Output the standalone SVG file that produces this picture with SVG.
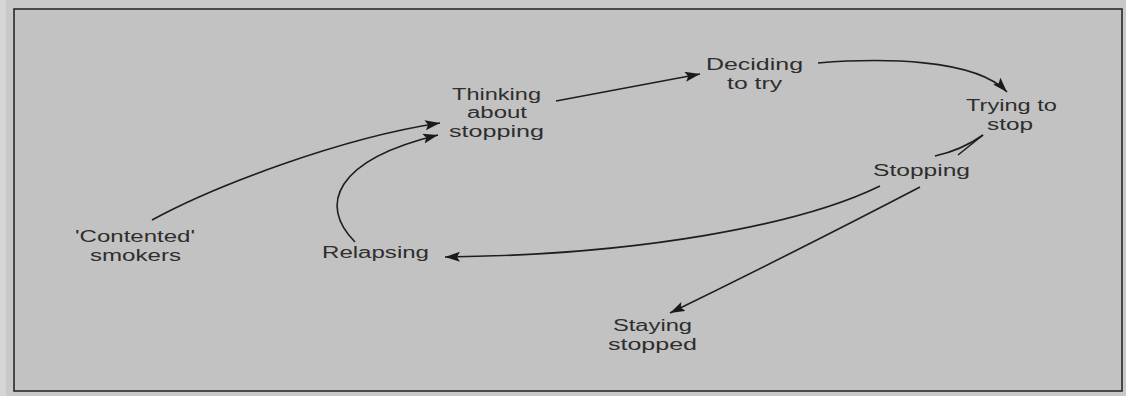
<svg xmlns="http://www.w3.org/2000/svg" width="1126" height="396" viewBox="0 0 1126 396">
<defs>
<style>
.lbl{font-family:"Liberation Sans",Arial,sans-serif;font-size:16px;fill:#2e2e2e;text-anchor:middle}
.con{fill:none;stroke:#1e1e1e;stroke-width:1.6}
</style>
<marker id="ah" markerUnits="userSpaceOnUse" markerWidth="16" markerHeight="12" refX="15" refY="5" orient="auto">
<path d="M0,0 L15,5 L0,10 L3,5 z" fill="#1a1a1a"/>
</marker>
</defs>
<rect x="0" y="0" width="1126" height="396" fill="#c9c9c9"/>
<rect x="0" y="0" width="6" height="396" fill="#d6d6d6"/>
<rect x="14" y="9" width="1108" height="382" fill="#c2c2c2" stroke="#2a2a2a" stroke-width="1.6"/>
<g id="connectors">
<path class="con" d="M556,101 L700,74" marker-end="url(#ah)"/>
<path class="con" d="M818,63 C880,58 975,58 1007,92" marker-end="url(#ah)"/>
<path class="con" d="M935,156 Q962,150 983,135"/>
<path class="con" d="M958,155 L983,135"/>
<path class="con" d="M880,186 C800,225 640,255 445,257" marker-end="url(#ah)"/>
<path class="con" d="M920,187 Q805,247 670,313" marker-end="url(#ah)"/>
<path class="con" d="M152,220 C212,187 340,138 440,123" marker-end="url(#ah)"/>
<path class="con" d="M355,242 C318,205 335,160 438,135" marker-end="url(#ah)"/>
</g>
<g id="thinking">
<text class="lbl" x="496.5" y="99.5" textLength="89" lengthAdjust="spacingAndGlyphs">Thinking</text>
<text class="lbl" x="497" y="118" textLength="60" lengthAdjust="spacingAndGlyphs">about</text>
<text class="lbl" x="496.5" y="136.5" textLength="95" lengthAdjust="spacingAndGlyphs">stopping</text>
</g>
<g id="deciding">
<text class="lbl" x="754.5" y="70" textLength="97" lengthAdjust="spacingAndGlyphs">Deciding</text>
<text class="lbl" x="754.5" y="88.5" textLength="55" lengthAdjust="spacingAndGlyphs">to try</text>
</g>
<g id="trying">
<text class="lbl" x="1011.5" y="111" textLength="91" lengthAdjust="spacingAndGlyphs">Trying to</text>
<text class="lbl" x="1010" y="129.5" textLength="46" lengthAdjust="spacingAndGlyphs">stop</text>
</g>
<g id="stopping">
<text class="lbl" x="921.5" y="176" textLength="97" lengthAdjust="spacingAndGlyphs">Stopping</text>
</g>
<g id="contented">
<text class="lbl" x="135" y="242.3" textLength="120" lengthAdjust="spacingAndGlyphs">'Contented'</text>
<text class="lbl" x="135.5" y="260.8" textLength="91" lengthAdjust="spacingAndGlyphs">smokers</text>
</g>
<g id="relapsing">
<text class="lbl" x="375.5" y="258" textLength="107" lengthAdjust="spacingAndGlyphs">Relapsing</text>
</g>
<g id="staying">
<text class="lbl" x="652.5" y="331" textLength="79" lengthAdjust="spacingAndGlyphs">Staying</text>
<text class="lbl" x="652.5" y="349.5" textLength="89" lengthAdjust="spacingAndGlyphs">stopped</text>
</g>
</svg>
